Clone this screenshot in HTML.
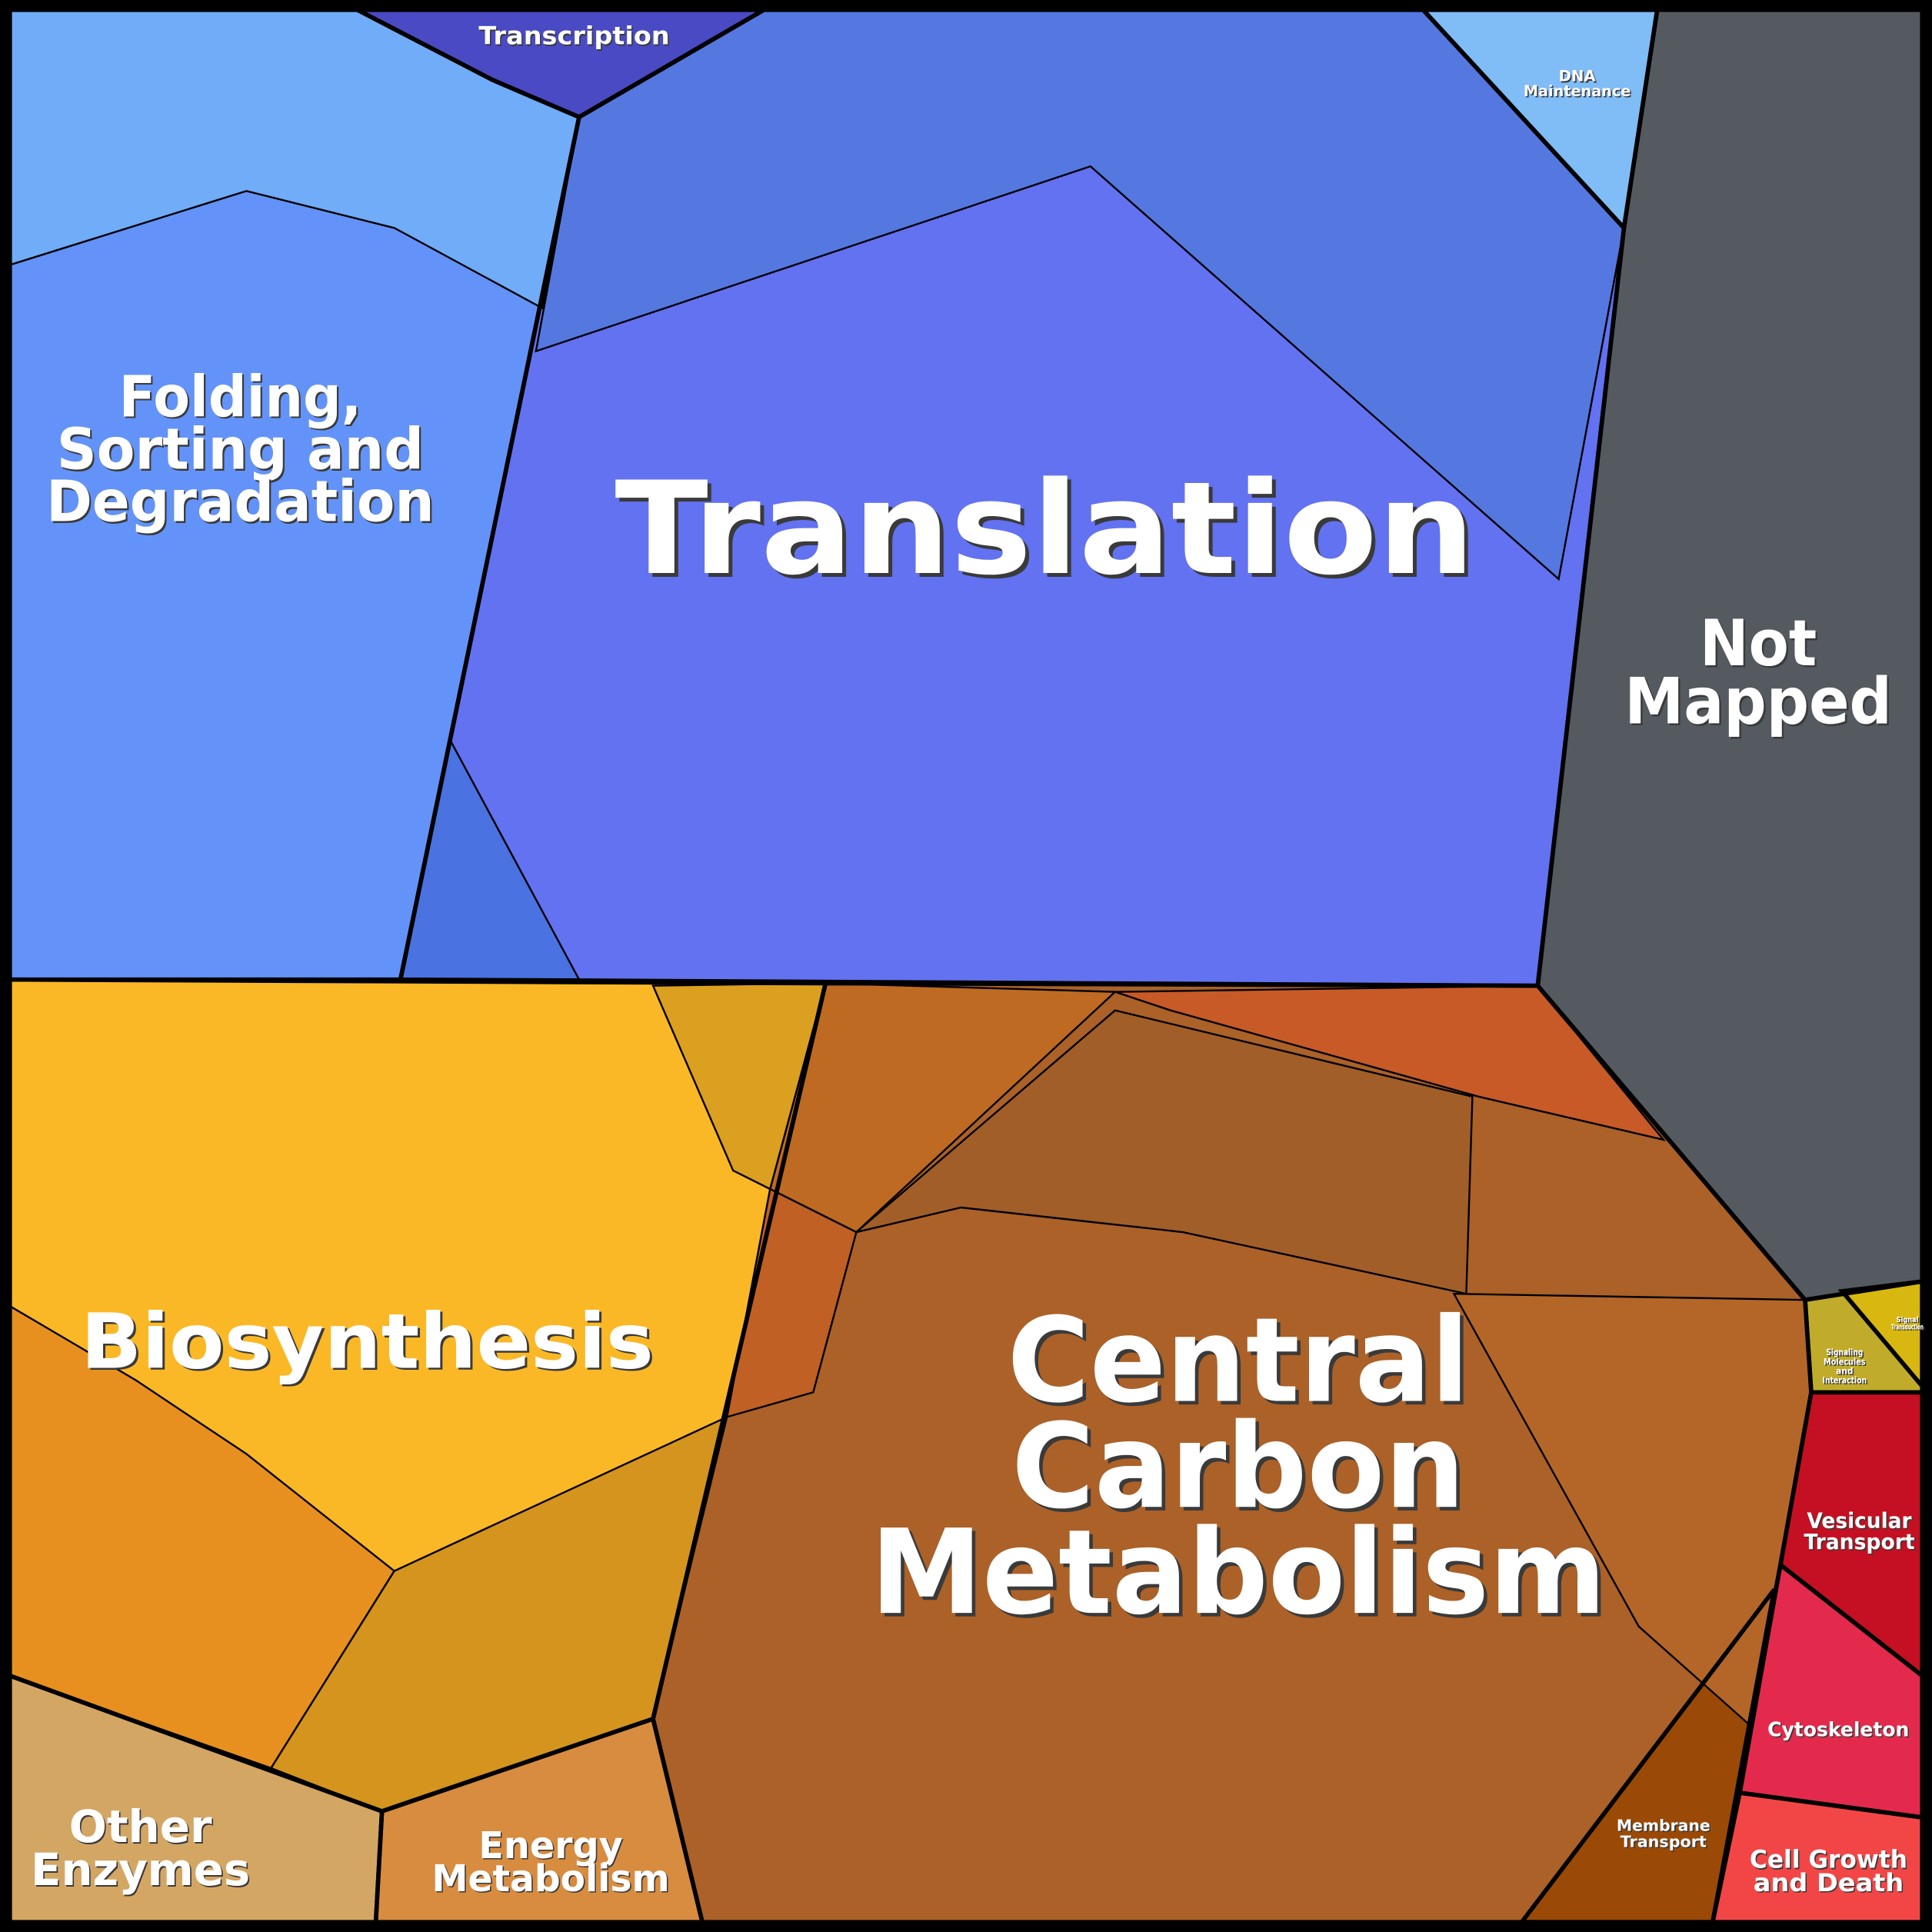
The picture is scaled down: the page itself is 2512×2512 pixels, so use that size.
<!DOCTYPE html>
<html><head><meta charset="utf-8"><style>
html,body{margin:0;padding:0;background:#000}
svg{display:block}
text{font-family:"DejaVu Sans","Liberation Sans",sans-serif;font-weight:bold;fill:#fff}
</style></head><body>
<svg id="chart" xmlns="http://www.w3.org/2000/svg" width="2512" height="2512" viewBox="0 0 1568 1568">
<rect x="0" y="0" width="1568" height="1568" fill="#000"/>
<g id="regions"></g>
<g id="labels"></g>
</svg>
<script>
const regionNames = ["folding","transcription","translation","dna-maintenance","not-mapped","biosynthesis","central-carbon","energy-metabolism","other-enzymes","signaling","vesicular","cytoskeleton","cell-growth","membrane-transport","signal-transduction"];
const regionColors = ["#6393f8","#4a4ac4","#6272f0","#80bcf6","#555a60","#fbb826","#ab6128","#d88c40","#d4a664","#c0ac2a","#c41022","#e32a4c","#f24646","#9a4a06","#d8b810"];
const regionPolys = [
 [[8,8],[290,8],[400,65],[470,95],[325,795],[8,795]],
 [[290,8],[620,8],[470,95],[400,65]],
 [[470,95],[620,8],[1155,8],[1318,185],[1248,800],[325,795]],
 [[1155,8],[1345,8],[1318,185]],
 [[1345,8],[1560,8],[1560,1040],[1465,1055],[1248,800],[1318,185]],
 [[8,795],[670,798],[530,1395],[310,1470],[8,1360]],
 [[670,798],[1248,800],[1465,1055],[1470,1130],[1445,1270],[1390,1560],[570,1560],[530,1395]],
 [[310,1470],[530,1395],[570,1560],[305,1560]],
 [[8,1360],[310,1470],[305,1560],[8,1560]],
 [[1465,1055],[1560,1040],[1560,1130],[1470,1130]],
 [[1470,1130],[1560,1130],[1560,1360],[1445,1270]],
 [[1445,1270],[1560,1360],[1560,1475],[1412,1455]],
 [[1412,1455],[1560,1475],[1560,1560],[1390,1560]],
 [[1440,1290],[1390,1560],[1235,1560]],
 [[1495,1048],[1560,1040],[1560,1125]]
];
const subColors = ["#5578e0","#70acf8","#e8901f","#d4941e","#c85a28","#bf6a22","#b46628","#a25e28","#4a72e0","#dca020","#c06024"];
const subPolys = [
 [[470,95],[620,8],[1155,8],[1318,185],[1265,470],[885,135],[435,285]],
 [[8,8],[290,8],[400,65],[470,95],[440,250],[320,185],[200,155],[8,215]],
 [[8,1060],[110,1120],[200,1180],[320,1275],[220,1435],[8,1360]],
 [[320,1275],[590,1150],[530,1395],[310,1470],[220,1435]],
 [[905,805],[1248,800],[1350,925],[1200,890],[950,820]],
 [[670,798],[905,805],[695,1000],[625,965]],
 [[1180,1050],[1465,1055],[1470,1130],[1445,1270],[1420,1400],[1330,1320]],
 [[695,1000],[905,820],[1195,890],[1190,1050],[960,1000],[780,980]],
 [[365,600],[470,795],[325,795]],
 [[530,800],[670,798],[625,965],[595,950]],
 [[625,965],[695,1000],[660,1130],[590,1150]]
];
const labelLines = [["Folding,","Sorting and","Degradation"],["Transcription"],["Translation"],["DNA","Maintenance"],["Not","Mapped"],["Biosynthesis"],["Central","Carbon","Metabolism"],["Energy","Metabolism"],["Other","Enzymes"],["Signaling","Molecules","and","Interaction"],["Vesicular","Transport"],["Cytoskeleton"],["Cell Growth","and Death"],["Membrane","Transport"],["Signal","Transduction"]];
const labelWidths = [[197,298,315],[155],[698],[30,87],[95,217],[465],[375,368,597],[117,193],[116,178],[30,34,14,36],[85,90],[115],[128,122],[76,70],[18,26]];
const labelSizes = [46,20,104,12,52,62,95,30,36,7,17,16,20,13,6];
const labelX = [195,466,848,1280,1427,298,1005,447,114,1497,1509,1492,1484,1350,1548];
const labelY = [338,36,465,66,540,1110,1137,1508,1495,1100,1240,1409,1516,1486,1073];
const labelGap = [42.5,0,0,12,47,0,86,27,35,7.5,17,0,19,13,6];

const NS = "http://www.w3.org/2000/svg";
const pts = p => p.map(q => q.join(",")).join(" ");
const regs = document.getElementById("regions");
const labs = document.getElementById("labels");
regionPolys.forEach((p,i)=>{
  const el = document.createElementNS(NS,"polygon");
  el.setAttribute("points", pts(p));
  el.setAttribute("fill", regionColors[i]);
  el.setAttribute("stroke","#000");
  el.setAttribute("stroke-width","3");
  el.setAttribute("stroke-linejoin","round");
  
  
  regs.appendChild(el);
});
const texture = document.createElementNS(NS,"g");
regs.appendChild(texture);
subPolys.forEach((p,i)=>{
  const el = document.createElementNS(NS,"polygon");
  el.setAttribute("points", pts(p));
  el.setAttribute("fill", subColors[i]);
  el.setAttribute("stroke","#000");
  el.setAttribute("stroke-width","1.5");
  
  
  texture.appendChild(el);
});
regionPolys.forEach((p,i)=>{
  const el = document.createElementNS(NS,"polygon");
  el.setAttribute("points", pts(p));
  el.setAttribute("fill","none");
  el.setAttribute("stroke","#000");
  el.setAttribute("stroke-width","3.5");
  
  
  regs.appendChild(el);
});
const fr = document.createElementNS(NS,"rect");
fr.setAttribute("x","4");fr.setAttribute("y","4");fr.setAttribute("width","1560");fr.setAttribute("height","1560");
fr.setAttribute("fill","none");fr.setAttribute("stroke","#000");fr.setAttribute("stroke-width","8");


regs.appendChild(fr);

labelLines.forEach((lines,i)=>{
  const fs = labelSizes[i];
  lines.forEach((t,j)=>{
    [1,0].forEach(sh=>{
      const el = document.createElementNS(NS,"text");
      el.setAttribute("x", labelX[i] + sh*Math.max(1,fs*0.03));
      el.setAttribute("y", labelY[i] + j*labelGap[i] + sh*Math.max(1,fs*0.03));
      el.setAttribute("font-size", fs);
      el.setAttribute("text-anchor","middle");
      if (sh) el.setAttribute("style","fill:#3a3a3a");
      el.setAttribute("textLength", labelWidths[i][j]);
      el.setAttribute("lengthAdjust","spacingAndGlyphs");
      el.textContent = t;
      
      
      labs.appendChild(el);
    });
  });
});
</script>
</body></html>
